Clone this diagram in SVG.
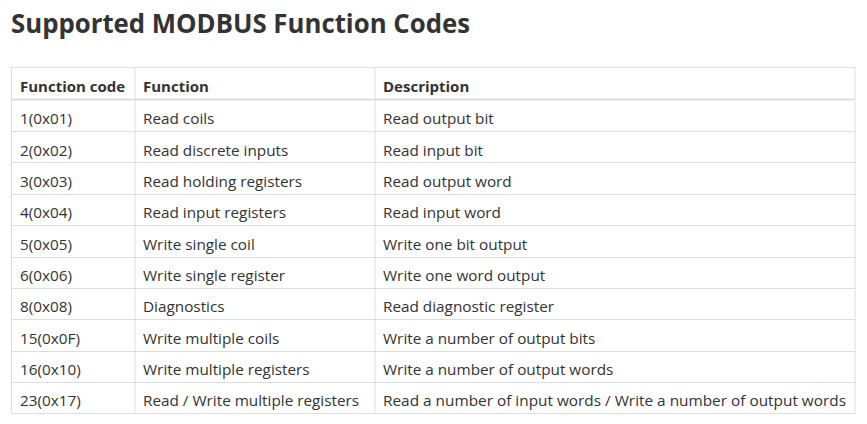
<svg xmlns="http://www.w3.org/2000/svg" width="867" height="424" viewBox="0 0 867 424">
<style>
text{font-family:"Open Sans","DejaVu Sans",sans-serif;fill:#333;}
.t{font-size:27px;font-weight:bold;}
.h{font-size:15px;font-weight:bold;}
.c{font-size:15.3px;}
.g{stroke:#ddd;stroke-width:1;fill:none;}
</style>
<rect width="867" height="424" fill="#fff"/>
<text class="t" x="11" y="33" textLength="459" lengthAdjust="spacingAndGlyphs">Supported MODBUS Function Codes</text>
<g id="grid" class="g">
<rect x="11.5" y="67.5" width="843.5" height="346"/>
<line x1="135" y1="67.5" x2="135" y2="413.5"/>
<line x1="375" y1="67.5" x2="375" y2="413.5"/>
<line x1="11.5" y1="99.5" x2="855" y2="99.5" stroke-width="2"/>
<line x1="11.5" y1="131.5" x2="855" y2="131.5"/>
<line x1="11.5" y1="162.5" x2="855" y2="162.5"/>
<line x1="11.5" y1="194.5" x2="855" y2="194.5"/>
<line x1="11.5" y1="225.5" x2="855" y2="225.5"/>
<line x1="11.5" y1="257.5" x2="855" y2="257.5"/>
<line x1="11.5" y1="288.5" x2="855" y2="288.5"/>
<line x1="11.5" y1="319.5" x2="855" y2="319.5"/>
<line x1="11.5" y1="351.5" x2="855" y2="351.5"/>
<line x1="11.5" y1="382.5" x2="855" y2="382.5"/>
</g>
<g id="header">
<text class="h" x="20" y="92">Function code</text>
<text class="h" x="143" y="92">Function</text>
<text class="h" x="383" y="92">Description</text>
</g>
<g id="rows">
<text class="c" x="20" y="124">1(0x01)</text><text class="c" x="143" y="124">Read coils</text><text class="c" x="383" y="124">Read output bit</text>
<text class="c" x="20" y="156">2(0x02)</text><text class="c" x="143" y="156">Read discrete inputs</text><text class="c" x="383" y="156">Read input bit</text>
<text class="c" x="20" y="187">3(0x03)</text><text class="c" x="143" y="187">Read holding registers</text><text class="c" x="383" y="187">Read output word</text>
<text class="c" x="20" y="218">4(0x04)</text><text class="c" x="143" y="218">Read input registers</text><text class="c" x="383" y="218">Read input word</text>
<text class="c" x="20" y="250">5(0x05)</text><text class="c" x="143" y="250">Write single coil</text><text class="c" x="383" y="250">Write one bit output</text>
<text class="c" x="20" y="281">6(0x06)</text><text class="c" x="143" y="281">Write single register</text><text class="c" x="383" y="281">Write one word output</text>
<text class="c" x="20" y="312">8(0x08)</text><text class="c" x="143" y="312">Diagnostics</text><text class="c" x="383" y="312">Read diagnostic register</text>
<text class="c" x="20" y="344">15(0x0F)</text><text class="c" x="143" y="344">Write multiple coils</text><text class="c" x="383" y="344">Write a number of output bits</text>
<text class="c" x="20" y="375">16(0x10)</text><text class="c" x="143" y="375">Write multiple registers</text><text class="c" x="383" y="375">Write a number of output words</text>
<text class="c" x="20" y="406">23(0x17)</text><text class="c" x="143" y="406">Read / Write multiple registers</text><text class="c" x="383" y="406" textLength="463" lengthAdjust="spacingAndGlyphs">Read a number of input words / Write a number of output words</text>
</g>
</svg>
